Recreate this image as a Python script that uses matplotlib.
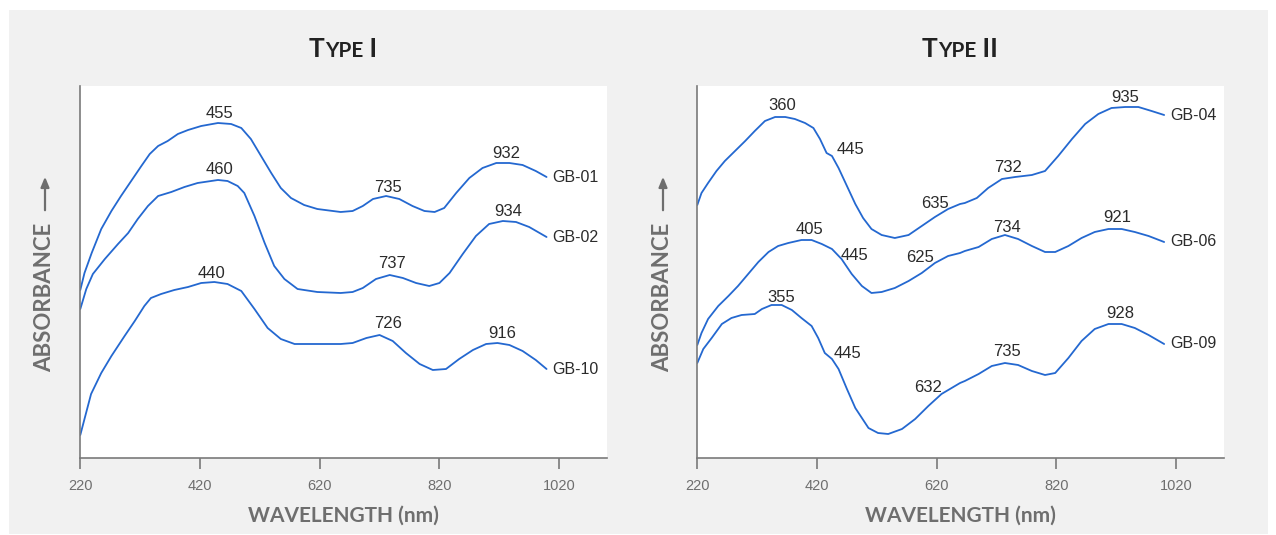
import matplotlib
matplotlib.use("Agg")
import matplotlib.pyplot as plt
from matplotlib.patches import Rectangle, FancyArrowPatch
from matplotlib.offsetbox import TextArea, HPacker, AnnotationBbox

# ---------------- data (wavelength nm, relative absorbance) ----------------
gb01_wl = [220, 227, 239, 255, 272, 288, 305, 322, 336, 350, 366, 383, 400, 422, 450, 472, 489,
           505, 522, 539, 555, 572, 594, 616, 655, 675, 692, 709, 731, 753, 775, 795, 812, 828,
           848, 870, 892, 915, 937, 959, 981, 999]
gb01_abs = [168, 185, 205, 229, 247, 262, 277, 292, 304, 312, 317, 324, 328, 332, 335, 334, 330,
            319, 302, 285, 270, 260, 253, 249, 246, 247, 252, 259, 262, 259, 252, 247, 246, 250,
            265, 280, 290, 295, 295, 293, 287, 281]

gb02_wl = [220, 230, 241, 261, 283, 300, 316, 333, 350, 372, 394, 416, 450, 466, 483, 494, 511,
           528, 544, 561, 583, 616, 655, 675, 692, 714, 737, 759, 781, 803, 820, 837, 859, 881,
           903, 926, 948, 970, 999]
gb02_abs = [149, 169, 184, 199, 214, 225, 239, 252, 262, 266, 271, 275, 278, 277, 272, 265, 242,
            215, 192, 179, 169, 166, 165, 166, 170, 179, 183, 180, 175, 172, 175, 185, 204, 222,
            234, 237, 236, 231, 221]

gb10_wl = [220, 227, 238, 255, 272, 294, 311, 327, 338, 355, 377, 400, 422, 444, 466, 489, 511,
           533, 555, 578, 655, 675, 698, 720, 742, 764, 787, 809, 831, 853, 876, 898, 917, 937,
           959, 981, 999]
gb10_abs = [23, 39, 64, 85, 102, 122, 137, 152, 160, 164, 168, 171, 175, 176, 174, 167, 149,
            130, 119, 114, 114, 115, 120, 123, 117, 105, 94, 88, 89, 99, 108, 114, 115, 113,
            107, 98, 89]

gb04_wl = [220, 227, 238, 252, 266, 283, 300, 316, 333, 350, 367, 383, 400, 414, 425, 436, 445,
           456, 470, 484, 497, 511, 528, 550, 573, 595, 617, 639, 659, 667, 687, 706, 729, 751,
           779, 801, 823, 846, 868, 890, 912, 935, 957, 979, 1000]
gb04_abs = [253, 265, 275, 287, 297, 307, 317, 327, 337, 341, 341, 339, 335, 330, 319, 305, 302,
            290, 272, 254, 240, 229, 223, 220, 223, 232, 241, 249, 254, 255, 260, 270, 279, 281,
            283, 287, 302, 319, 334, 344, 350, 351, 351, 347, 343]

gb06_wl = [220, 227, 238, 255, 272, 288, 305, 322, 339, 355, 372, 394, 411, 428, 445, 461, 478,
           495, 511, 528, 550, 573, 595, 617, 639, 659, 667, 690, 712, 734, 756, 779, 801, 818,
           840, 862, 884, 907, 929, 951, 974, 1000]
gb06_abs = [113, 125, 139, 152, 162, 172, 184, 196, 206, 212, 215, 218, 218, 214, 209, 199, 184,
            172, 165, 166, 170, 177, 185, 195, 202, 205, 207, 211, 219, 223, 219, 212, 206, 206,
            212, 220, 226, 229, 229, 226, 222, 216]

gb09_wl = [220, 230, 244, 261, 277, 294, 316, 328, 344, 361, 378, 394, 411, 422, 433, 445, 456,
           470, 484, 495, 506, 522, 539, 562, 584, 606, 628, 659, 667, 690, 712, 734, 756, 779,
           801, 818, 840, 862, 884, 907, 929, 951, 974, 1000]
gb09_abs = [95, 109, 120, 134, 140, 143, 144, 149, 153, 153, 148, 140, 132, 120, 105, 99, 89,
            69, 50, 40, 30, 25, 24, 29, 39, 52, 64, 75, 77, 84, 92, 95, 93, 87, 83, 85, 100,
            117, 129, 134, 134, 130, 123, 114]

left_names = ["GB-01", "GB-02", "GB-10"]
right_names = ["GB-04", "GB-06", "GB-09"]

# peak labels: text, x (nm), y
left_peak_text = ["455", "735", "932", "460", "737", "934", "440", "726", "916"]
left_peak_x = [453, 734, 932, 453, 740, 935, 439, 735, 925]
left_peak_y = [345, 270, 304, 289, 195, 247, 185, 135, 125]

right_peak_text = ["360", "445", "635", "732", "935",
                   "405", "445", "625", "734", "921",
                   "355", "445", "632", "735", "928"]
right_peak_x = [362, 476, 617, 740, 935,
                407, 483, 592, 737, 922,
                360, 471, 606, 737, 927]
right_peak_y = [352, 309, 254, 290, 361,
                229, 203, 200, 230, 241,
                161, 104, 71, 106, 145]

xticks = [220, 420, 620, 820, 1020]

# ---------------- figure ----------------
W, H = 1276, 535
fig = plt.figure(figsize=(W / 100, H / 100), dpi=100)
fig.patch.set_facecolor("white")
bg = Rectangle((9 / W, 1 - 534 / H), (1268 - 9) / W, (534 - 10) / H,
               transform=fig.transFigure, facecolor="#f1f1f1", edgecolor="none", zorder=-10)
fig.add_artist(bg)

LINE = "#2468d0"
GREY = "#6e6e6e"
TXT = "#2b2b2b"
NUMFONT = ["Liberation Sans", "DejaVu Sans"]
LABFONT = ["Lato", "DejaVu Sans"]


def make_axes(left_px, right_px):
    ax = fig.add_axes([left_px / W, 1 - 458 / H, (right_px - left_px) / W, (458 - 86) / H])
    ax.set_zorder(1)
    ax.set_facecolor("white")
    ax.set_xlim(220, 1100)
    ax.set_ylim(0, 372)
    for s in ["top", "right"]:
        ax.spines[s].set_visible(False)
    for s in ["left", "bottom"]:
        ax.spines[s].set_color("#7a7a7a")
        ax.spines[s].set_linewidth(1.2)
    ax.set_yticks([])
    ax.set_xticks(xticks)
    ax.set_xticklabels([str(t) for t in xticks], fontsize=10.5, color=GREY, family=NUMFONT)
    ax.tick_params(axis="x", direction="out", length=8, width=1.2, color="#7a7a7a", pad=7)
    ax.set_xlabel("WAVELENGTH (nm)", fontsize=15, fontweight="bold", color=GREY,
                  family=LABFONT, labelpad=9)
    return ax


axL = make_axes(80.3, 607)
axR = make_axes(697.3, 1224)

left_series = [(gb01_wl, gb01_abs), (gb02_wl, gb02_abs), (gb10_wl, gb10_abs)]
right_series = [(gb04_wl, gb04_abs), (gb06_wl, gb06_abs), (gb09_wl, gb09_abs)]

for ax, series, names in [(axL, left_series, left_names), (axR, right_series, right_names)]:
    for (wl, ab), nm in zip(series, names):
        ax.plot(wl, ab, color=LINE, lw=1.3, solid_joinstyle="round", solid_capstyle="round")
        ax.text(wl[-1] + 10, ab[-1], nm, ha="left", va="center", fontsize=11.5,
                color=TXT, family=NUMFONT)

for t, x, y in zip(left_peak_text, left_peak_x, left_peak_y):
    axL.text(x, y, t, ha="center", va="center", fontsize=12, color=TXT, family=NUMFONT)
for t, x, y in zip(right_peak_text, right_peak_x, right_peak_y):
    axR.text(x, y, t, ha="center", va="center", fontsize=12, color=TXT, family=NUMFONT)


# y-axis labels with arrow
def ylab(xpx):
    fig.text(xpx / W, 1 - 297 / H, "ABSORBANCE", rotation=90, ha="center", va="center",
             fontsize=16, fontweight="bold", color=GREY, family=LABFONT)
    fig.add_artist(FancyArrowPatch(
        (xpx / W, 1 - 213 / H), (xpx / W, 1 - 174 / H), transform=fig.transFigure,
        arrowstyle="-|>,head_length=6,head_width=2.5", color=GREY, lw=1.6,
        mutation_scale=1))


ylab(45)
ylab(663)


# small-caps titles
def title(xpx, big1, small, big2):
    props_big = dict(size=19, weight="bold", color="#222222", family=LABFONT)
    props_small = dict(size=15, weight="bold", color="#222222", family=LABFONT)
    parts = [TextArea(big1, textprops=props_big), TextArea(small, textprops=props_small),
             TextArea(big2, textprops=props_big)]
    box = HPacker(children=parts, align="baseline", pad=0, sep=0)
    ab = AnnotationBbox(box, (xpx / W, 1 - 49 / H), xycoords="figure fraction",
                        frameon=False, box_alignment=(0.5, 0.5))
    fig.add_artist(ab)


title(343, "T", "YPE", " I")
title(960, "T", "YPE", " II")

fig.savefig("out.png", dpi=100, facecolor=fig.get_facecolor())
